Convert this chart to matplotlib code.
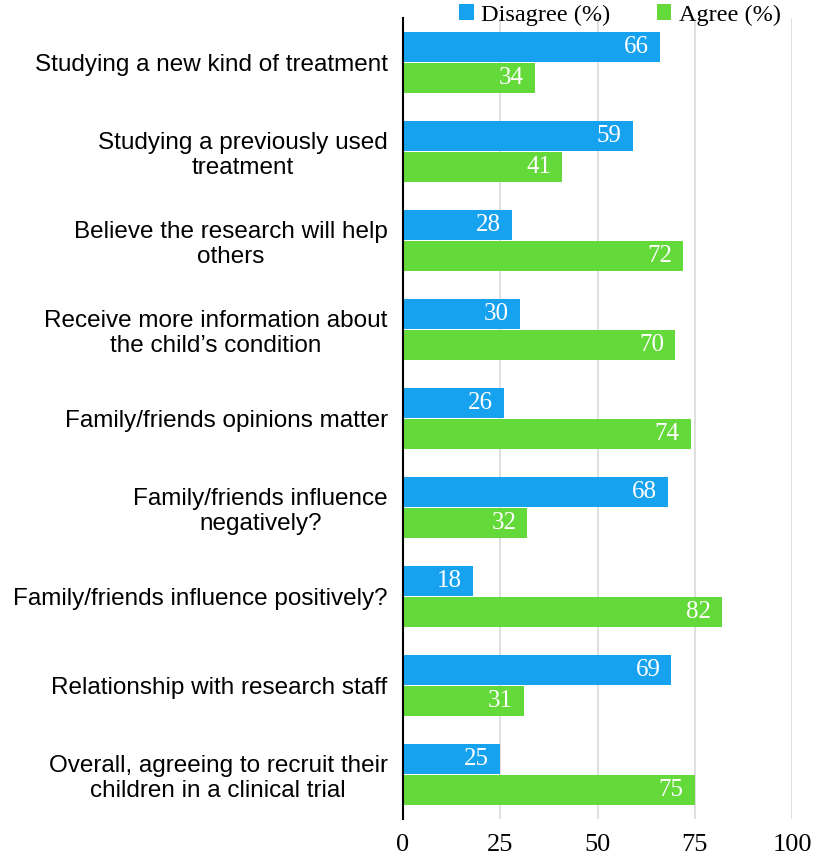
import matplotlib.pyplot as plt
import numpy as np

categories = [
    "Studying a new kind of treatment",
    "Studying a previously used\ntreatment",
    "Believe the research will help\nothers",
    "Receive more information about\nthe child\u2019s condition",
    "Family/friends opinions matter",
    "Family/friends influence\nnegatively?",
    "Family/friends influence positively?",
    "Relationship with research staff",
    "Overall, agreeing to recruit their\nchildren in a clinical trial",
]
disagree = [66, 59, 28, 30, 26, 68, 18, 69, 25]
agree = [34, 41, 72, 70, 74, 32, 82, 31, 75]
series_names = ["Disagree (%)", "Agree (%)"]
xticks = [0, 25, 50, 75, 100]

blue = "#17A2F0"
green = "#63D93A"
serif = ["Liberation Serif", "DejaVu Serif"]

fig = plt.figure(figsize=(8.13, 8.59), dpi=100)
ax = fig.add_axes([403 / 813, 40 / 859, 389 / 813, 801 / 859])

y = np.arange(len(categories))
h = 0.33
b1 = ax.barh(y - h / 2 - 0.01, disagree, height=h, color=blue, label=series_names[0], zorder=3)
b2 = ax.barh(y + h / 2 + 0.01, agree, height=h, color=green, label=series_names[1], zorder=3)

# value labels inside the bar ends
for bars, vals in ((b1, disagree), (b2, agree)):
    for bar, v in zip(bars, vals):
        ax.annotate(str(v), (v, bar.get_y() + bar.get_height() / 2),
                    xytext=(-8, 0), textcoords="offset points",
                    ha="right", va="center", color="white",
                    fontsize=18, family=serif, zorder=4)

ax.set_xlim(0, 100)
ax.set_ylim(len(categories) - 0.5, -0.5)
ax.set_xticks(xticks)
ax.set_xticklabels([str(t) for t in xticks], family=serif, fontsize=19)
ax.set_yticks(y)
ax.set_yticklabels(categories, family=["Liberation Sans", "DejaVu Sans"], fontsize=17.5)
for lab in ax.get_yticklabels():
    lab.set_multialignment("center")
ax.tick_params(axis="both", length=0)
ax.tick_params(axis="x", pad=11)
ax.tick_params(axis="y", pad=11)

ax.grid(axis="x", color="#d9d9d9", linewidth=1.2, zorder=0)
for s in ("top", "right", "bottom"):
    ax.spines[s].set_visible(False)
ax.spines["left"].set_color("black")
ax.spines["left"].set_linewidth(1.5)
ax.spines["left"].set_zorder(5)

fig.legend(handles=[b1, b2], labels=series_names, loc="center",
           bbox_to_anchor=(620 / 813, 1 - 15 / 859), ncol=2, frameon=False,
           prop={"family": serif, "size": 17.5}, handlelength=0.6, handleheight=0.6,
           handletextpad=0.3, columnspacing=1.9, borderaxespad=0)

fig.savefig("out.png", dpi=100)
